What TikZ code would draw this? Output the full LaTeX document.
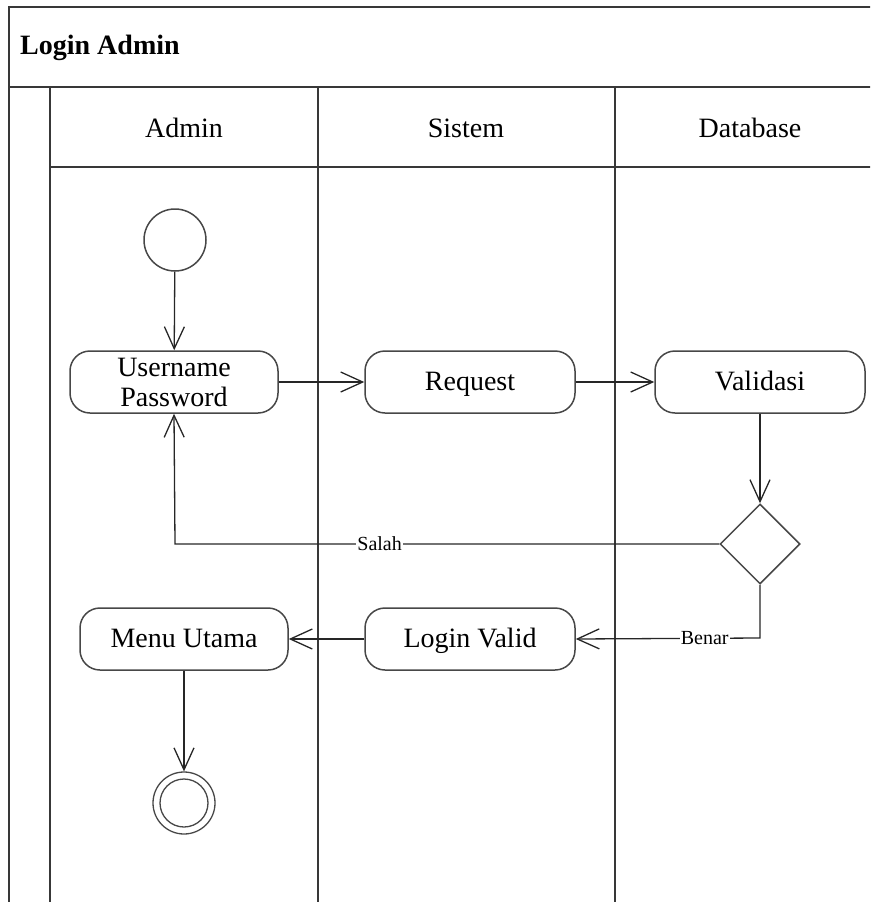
\documentclass[tikz,border=0pt]{standalone}
\usepackage{fontspec}
\setmainfont{Liberation Serif}
\usetikzlibrary{arrows.meta,shapes.geometric}
\begin{document}
\begin{tikzpicture}[x=1pt,y=-1pt,
  frame/.style={draw=black!78, line width=2pt},
  act/.style={draw=black!72, line width=1.5pt, rounded corners=20pt,
    minimum width=210pt, minimum height=62pt, inner sep=0pt, align=center,
    fill=white, font=\fontsize{28}{30}\selectfont},
  oneline/.style={text height=20pt, text depth=4pt},
  flow/.style={draw=black!85, line width=1.3pt,
    -{Straight Barb[length=22pt,width=20pt,line width=1.3pt]}},
  guard/.style={fill=white, inner sep=1pt, font=\fontsize{20}{22}\selectfont},
  lanehead/.style={font=\fontsize{28}{30}\selectfont},
  ]
\useasboundingbox (0,0) rectangle (870,902);
\clip (0,0) rectangle (870,902);

% pool frame and title row
\draw[frame] (9,902) -- (9,7) -- (880,7);
\draw[frame] (9,87) -- (880,87);
\node[anchor=west, inner sep=0pt, font=\bfseries\fontsize{28}{30}\selectfont] (title) at (20,48) {Login Admin};

% swimlanes
\draw[frame] (50,87) -- (50,910);
\draw[frame] (50,167) -- (880,167);
\draw[frame] (318,87) -- (318,910);
\draw[frame] (615,87) -- (615,910);
\node[lanehead] (hadmin) at (184,128) {Admin};
\node[lanehead] (hsistem) at (466,128) {Sistem};
\node[lanehead] (hdb) at (750,128) {Database};

% activities
\node[circle, draw=black!72, line width=1.5pt, minimum size=62pt, inner sep=0pt, fill=white] (start) at (175,240) {};
\node[act, minimum width=208pt] (user) at (174,382) {Username\\Password};
\node[act, oneline] (req) at (470,382) {Request};
\node[act, oneline] (val) at (760,382) {Validasi};
\node[diamond, draw=black!72, line width=1.5pt, minimum size=80pt, inner sep=0pt, fill=white] (dec) at (760,544) {};
\node[act, oneline] (lval) at (470,639) {Login Valid};
\node[act, oneline, minimum width=208pt] (menu) at (184,639) {Menu Utama};
\node[circle, draw=black!72, line width=1.3pt, minimum size=62pt, inner sep=0pt, fill=white] (final) at (184,803) {};
\draw[black!72, line width=1.3pt] (final.center) circle (24);

% flows
\coordinate (salahbend) at (175,544);
\coordinate (benarbend) at (760,638);
\draw[flow] (start) -- (user);
\draw[flow] (user) -- (req);
\draw[flow] (req) -- (val);
\draw[flow] (val) -- (dec);
\draw[flow] (dec.west) -- node[guard, pos=0.624] {Salah} (salahbend) -- (user.south);
\draw[flow] (dec.south) -- (benarbend) -- node[guard, pos=0.3] {Benar} (lval.east);
\draw[flow] (lval) -- (menu);
\draw[flow] (menu) -- (final);
\end{tikzpicture}
\end{document}
